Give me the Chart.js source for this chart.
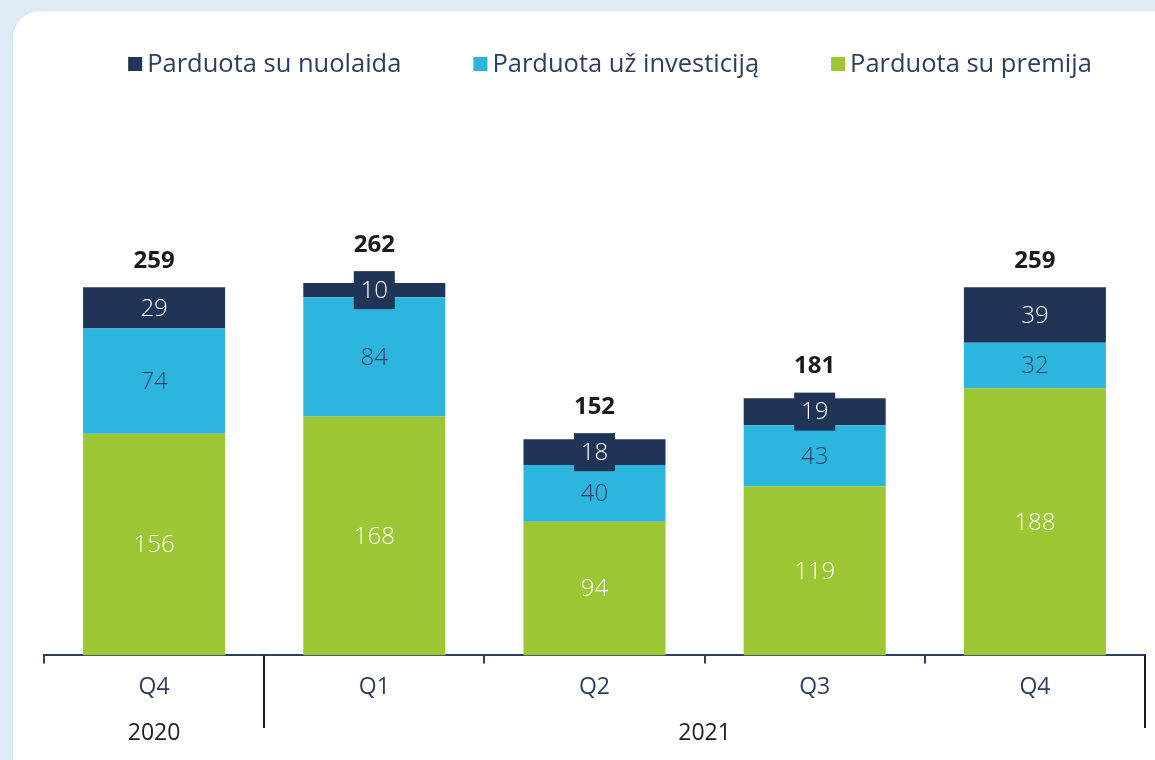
<!DOCTYPE html>
<html>
<head>
<meta charset="utf-8">
<script src="https://cdn.jsdelivr.net/npm/chart.js@4"></script>
<style>
  html, body { margin: 0; padding: 0; background: #deebf5; }
  .card {
    position: absolute; left: 12px; top: 10px; width: 1170px; height: 780px;
    background: #fff; border: 1px solid #cfe6f4; border-radius: 28px;
  }
  .wrap { position: absolute; left: 0; top: 0; width: 1155px; height: 760px; }
</style>
</head>
<body>
<div class="card"></div>
<div class="wrap"><canvas id="chart" width="1155" height="760"></canvas></div>
<script>
/* 판매 구조 — 분기별 누적 막대 */

const quarters = ['Q4', 'Q1', 'Q2', 'Q3', 'Q4'];
const years = ['2020', '2021'];
const yearSpans = [1, 4];          // 연도별 분기 수

const seriesNames = ['Parduota su premija', 'Parduota už investiciją', 'Parduota su nuolaida'];
const premija = [156, 168, 94, 119, 188];
const investicija = [74, 84, 40, 43, 32];
const nuolaida = [29, 10, 18, 19, 39];

const NAVY = '#203457';
const CYAN = '#2cb6dd';
const GREEN = '#9cc633';
const TEXT = '#2d3f61';
const FONT = '"Open Sans", sans-serif';

/* 범례 (데이터셋 역순) */
const legendPlugin = {
  id: 'topLegend',
  afterDraw(chart) {
    const ctx = chart.ctx;
    const sets = chart.data.datasets.slice().reverse();
    ctx.save();
    ctx.font = '400 25.5px ' + FONT;
    ctx.textBaseline = 'middle';
    const box = 14, gap = 5, itemGap = 72;
    const widths = sets.map(d => box + gap + ctx.measureText(d.label).width);
    const total = widths.reduce((a, b) => a + b, 0) + itemGap * (sets.length - 1);
    let x = 610 - total / 2;
    const y = 64;
    sets.forEach((d, i) => {
      ctx.fillStyle = d.backgroundColor;
      ctx.fillRect(x, y - box / 2, box, box);
      ctx.fillStyle = TEXT;
      ctx.textAlign = 'left';
      ctx.fillText(d.label, x + box + gap, y + 1);
      x += widths[i] + itemGap;
    });
    ctx.restore();
  }
};

/* 구간 값 + 합계 */
const labelPlugin = {
  id: 'segLabels',
  afterDatasetsDraw(chart) {
    const ctx = chart.ctx;
    ctx.save();
    ctx.textAlign = 'center';
    ctx.textBaseline = 'middle';
    const tops = [];
    chart.data.datasets.forEach((ds, di) => {
      const meta = chart.getDatasetMeta(di);
      meta.data.forEach((bar, j) => {
        const h = bar.base - bar.y;
        const cy = bar.y + h / 2;
        let top = bar.y;
        if (di === 2 && h < 30) {
          ctx.fillStyle = NAVY;
          ctx.fillRect(bar.x - 20.5, cy - 19, 41, 38);
          top = Math.min(top, cy - 19);
        }
        ctx.font = '300 24px ' + FONT;
        ctx.fillStyle = di === 1 ? TEXT : '#ffffff';
        ctx.fillText(ds.data[j], bar.x, cy + 1);
        tops[j] = tops[j] === undefined ? top : Math.min(tops[j], top);
      });
    });
    ctx.font = '700 24px ' + FONT;
    ctx.fillStyle = '#1a1a1a';
    const meta = chart.getDatasetMeta(0);
    meta.data.forEach((bar, j) => {
      const sum = premija[j] + investicija[j] + nuolaida[j];
      ctx.fillText(sum, bar.x, tops[j] - 26);
    });
    ctx.restore();
  }
};

/* 연도 구분선 + 연도 라벨 */
const yearPlugin = {
  id: 'yearAxis',
  afterDraw(chart) {
    const ctx = chart.ctx;
    const area = chart.chartArea;
    const step = (area.right - area.left) / quarters.length;
    ctx.save();
    ctx.strokeStyle = '#1a1a1a';
    ctx.lineWidth = 2;
    ctx.fillStyle = '#222';
    ctx.font = '400 23px ' + FONT;
    ctx.textAlign = 'center';
    ctx.textBaseline = 'middle';
    let start = 0;
    years.forEach((yr, i) => {
      const end = start + yearSpans[i];
      const x0 = area.left + step * start;
      const x1 = area.left + step * end;
      ctx.beginPath();
      ctx.moveTo(Math.round(x1), area.bottom);
      ctx.lineTo(Math.round(x1), 728);
      ctx.stroke();
      ctx.fillText(yr, (x0 + x1) / 2, 733);
      start = end;
    });
    ctx.restore();
  }
};

new Chart(document.getElementById('chart'), {
  type: 'bar',
  data: {
    labels: quarters,
    datasets: [
      { label: seriesNames[0], data: premija, backgroundColor: GREEN },
      { label: seriesNames[1], data: investicija, backgroundColor: CYAN },
      { label: seriesNames[2], data: nuolaida, backgroundColor: NAVY },
    ]
  },
  options: {
    responsive: false,
    animation: false,
    layout: { padding: { top: 229, left: 44, right: 10, bottom: 49 } },
    datasets: { bar: { categoryPercentage: 1, barPercentage: 0.645 } },
    plugins: { legend: { display: false }, tooltip: { enabled: false } },
    scales: {
      x: {
        stacked: true,
        grid: { drawOnChartArea: false, tickLength: 8, color: TEXT, lineWidth: 2, offset: true },
        border: { color: TEXT, width: 2 },
        ticks: { color: TEXT, font: { family: FONT, size: 23 }, padding: 10 },
      },
      y: { stacked: true, display: false, min: 0, max: 300 },
    },
  },
  plugins: [legendPlugin, labelPlugin, yearPlugin],
});
</script>
</body>
</html>
